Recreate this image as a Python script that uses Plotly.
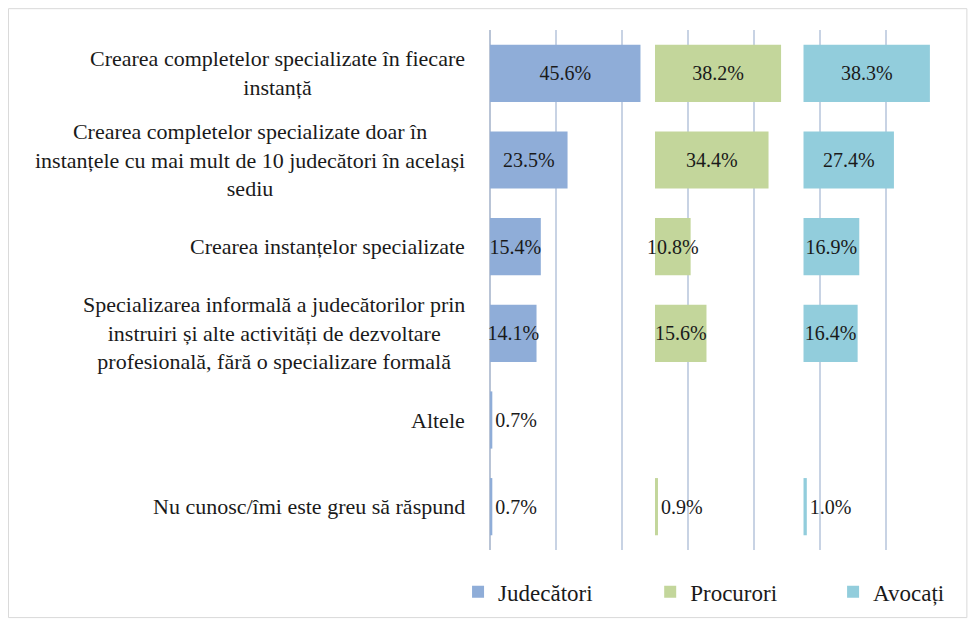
import plotly.graph_objects as go

categories = [
    "Crearea completelor specializate în fiecare<br>instanță",
    "Crearea completelor specializate doar în<br>instanțele cu mai mult de 10 judecători în același<br>sediu",
    "Crearea instanțelor specializate",
    "Specializarea informală a judecătorilor prin<br>instruiri și alte activități de dezvoltare<br>profesională, fără o specializare formală",
    "Altele",
    "Nu cunosc/îmi este greu să răspund",
]
judecatori = [45.6, 23.5, 15.4, 14.1, 0.7, 0.7]
procurori = [38.2, 34.4, 10.8, 15.6, None, 0.9]
avocati = [38.3, 27.4, 16.9, 16.4, None, 1.0]

# name, values, colour, offset of the panel on the shared axis, legend id, legend x
series = [
    ("Judecători", judecatori, "#8FADD8", 0, "legend", -0.069),
    ("Procurori", procurori, "#C3D69B", 50, "legend2", 0.346),
    ("Avocați", avocati, "#92CDDC", 95, "legend3", 0.741),
]

FONT = "Liberation Serif"
ycats = list(range(len(categories)))

fig = go.Figure()
legends = {}
for name, vals, color, base, leg, lx in series:
    text = [None if v is None else f"{v:.1f}%" for v in vals]
    pos = ["inside" if (v is not None and v >= 5) else "outside" for v in vals]
    fig.add_trace(go.Bar(
        y=ycats, x=vals, base=base, orientation="h", name=name, legend=leg,
        marker=dict(color=color, line=dict(width=0)),
        text=text, textposition=pos, insidetextanchor="middle", textangle=0,
        constraintext="none", cliponaxis=False,
        textfont=dict(family=FONT, size=20, color="#1a1a1a"),
    ))
    legends[leg] = dict(orientation="h", x=lx, xanchor="left",
                        y=0.046, yref="container", yanchor="middle",
                        bgcolor="rgba(0,0,0,0)",
                        font=dict(family=FONT, size=23, color="#1a1a1a"))

# category labels, centred lines like the original
for i, c in enumerate(categories):
    fig.add_annotation(x=-0.05, xref="paper", y=i, yref="y", text=c,
                       xanchor="right", yanchor="middle", align="center",
                       showarrow=False,
                       font=dict(family=FONT, size=22, color="#1a1a1a"))

fig.add_shape(type="rect", xref="paper", yref="paper",
              x0=-1.04, x1=1.03, y0=-0.13, y1=1.041,
              line=dict(color="#D9D9D9", width=1))

fig.update_layout(
    width=960, height=612,
    margin=dict(l=482, r=15, t=22, b=70),
    paper_bgcolor="white", plot_bgcolor="white",
    barmode="overlay", bargap=0.34,
    font=dict(family=FONT, size=20, color="#1a1a1a"),
    showlegend=True,
    **legends,
)
fig.update_xaxes(range=[0, 140.3], dtick=20, showticklabels=False,
                 showgrid=True, gridcolor="#C8D3E4", gridwidth=1.5,
                 zeroline=True, zerolinecolor="#B9C4D6", zerolinewidth=1.5,
                 fixedrange=True)
fig.update_yaxes(range=[5.5, -0.5], showticklabels=False, showgrid=False,
                 zeroline=False, fixedrange=True)

fig.write_html("out.html")
